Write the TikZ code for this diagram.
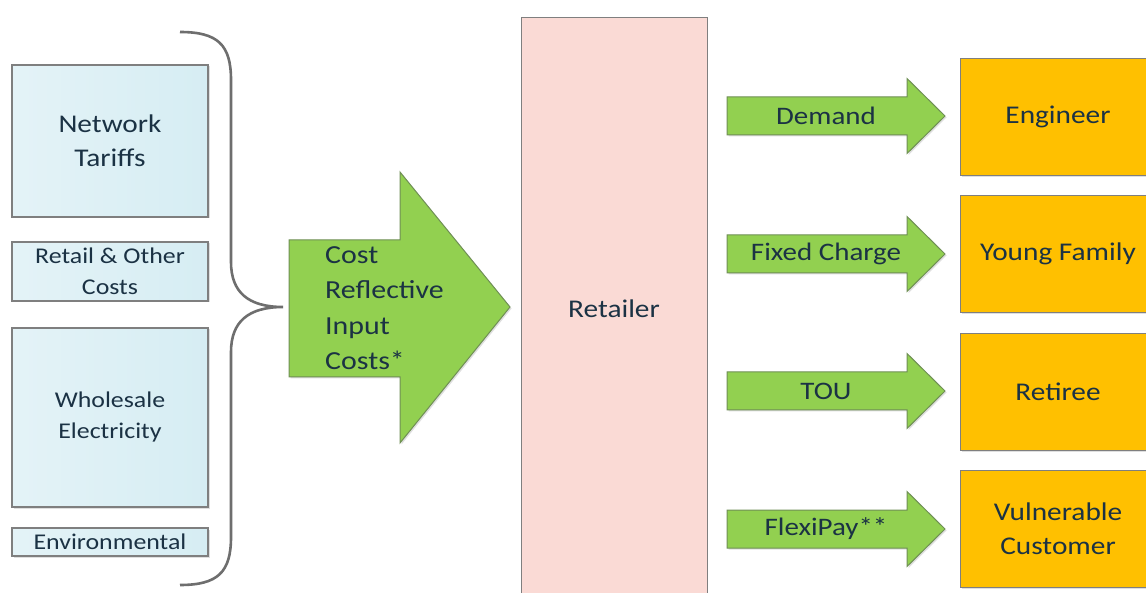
\documentclass[tikz,border=0pt]{standalone}
\usepackage{fontspec}
\setmainfont{Carlito}[FakeStretch=1.15]
\usetikzlibrary{shadows}
\definecolor{txt}{HTML}{1B3244}
\definecolor{bluefill}{HTML}{D6EDF3}
\definecolor{bluefillL}{HTML}{E4F3F7}
\definecolor{edge}{HTML}{7F7F7F}
\definecolor{greenfill}{HTML}{92D050}
\definecolor{greenedge}{HTML}{6F8F55}
\definecolor{pinkfill}{HTML}{FADAD5}
\definecolor{orangefill}{HTML}{FFC000}
\definecolor{bracec}{HTML}{6E6E6E}
\tikzset{
  sh/.style={drop shadow={opacity=0.25,shadow xshift=1.5pt,shadow yshift=-1.5pt}},
  bluebox/.style={draw=edge, line width=1.2pt, left color=bluefillL, right color=bluefill, sh, text=txt, align=center, inner sep=0pt},
  greenarrow/.style={draw=greenedge, line width=1pt, fill=greenfill, sh},
  orangebox/.style={draw=edge, line width=1.2pt, fill=orangefill, sh, inner sep=0pt},
  lbl/.style={text=txt, align=center, inner sep=0pt},
  bigt/.style={font=\fontsize{25.5}{34}\selectfont},
  midt/.style={font=\fontsize{22.5}{31}\selectfont},
}
\begin{document}
\begin{tikzpicture}[x=1pt,y=-1pt]
\useasboundingbox[fill=white] (0,0) rectangle (1146,593);
% left boxes
\node[bluebox, bigt, minimum width=196pt, minimum height=152pt] (nt) at (110,141) {Network\\Tariffs};
\node[bluebox, midt, minimum width=196pt, minimum height=59pt] (rc) at (110,271.5) {Retail \& Other\\Costs};
\node[bluebox, midt, minimum width=196pt, minimum height=179pt] (we) at (110,417.5) {Wholesale\\Electricity};
\node[bluebox, midt, minimum width=196pt, minimum height=28pt] (en) at (110,542) {Environmental};
% brace
\coordinate (btip) at (283,307);
\draw[bracec, line width=2.6pt, line join=miter]
  (180,32) .. controls (218,32) and (231,45) .. (231,80) -- (231,262)
  .. controls (231,292) and (248,307) .. (btip)
  .. controls (248,307) and (231,322) .. (231,352) -- (231,537)
  .. controls (231,572) and (218,585) .. (180,585);
% big arrow
\draw[greenarrow] (289,240) -- (400,240) -- (400,172) -- (510,307) -- (400,443) -- (400,377) -- (289,377) -- cycle;
\node[lbl, align=left, anchor=north west, font=\fontsize{26}{35.5}\selectfont] (cost) at (325,246) {Cost\\Reflective\\Input\\Costs*};
% retailer
\node[draw=edge, line width=1.2pt, fill=pinkfill, minimum width=186pt, minimum height=600pt, anchor=north west, inner sep=0pt] (ret) at (521,17) {};
\node[lbl, bigt] (rett) at (614,309) {Retailer};
% small arrows and customer boxes
\foreach \yc/\lab/\nm in {116/Demand/a1, 254/Fixed Charge/a2, 391/TOU/a3, 529/FlexiPay**/a4}{
  \draw[greenarrow] (727,\yc-19) -- (907,\yc-19) -- (907,\yc-37.5) -- (945,\yc) -- (907,\yc+37.5) -- (907,\yc+19) -- (727,\yc+19) -- cycle;
  \node[lbl, font=\fontsize{25.2}{30}\selectfont] (\nm) at (826,\yc) {\lab};
}
\node[orangebox, minimum width=200pt, minimum height=117pt, anchor=north west] (eng) at (960,58) {};
\node[lbl, bigt] (engt) at (1058,116.5) {Engineer};
\node[orangebox, minimum width=200pt, minimum height=117pt, anchor=north west] (yf) at (960,195) {};
\node[lbl, bigt] (yft) at (1058,254) {Young Family};
\node[orangebox, minimum width=200pt, minimum height=117pt, anchor=north west] (rt) at (960,333) {};
\node[lbl, bigt] (rtt) at (1058,391.5) {Retiree};
\node[orangebox, minimum width=200pt, minimum height=117pt, anchor=north west] (vc) at (960,470) {};
\node[lbl, bigt] (vct) at (1058,528.5) {Vulnerable\\Customer};
\end{tikzpicture}
\end{document}
